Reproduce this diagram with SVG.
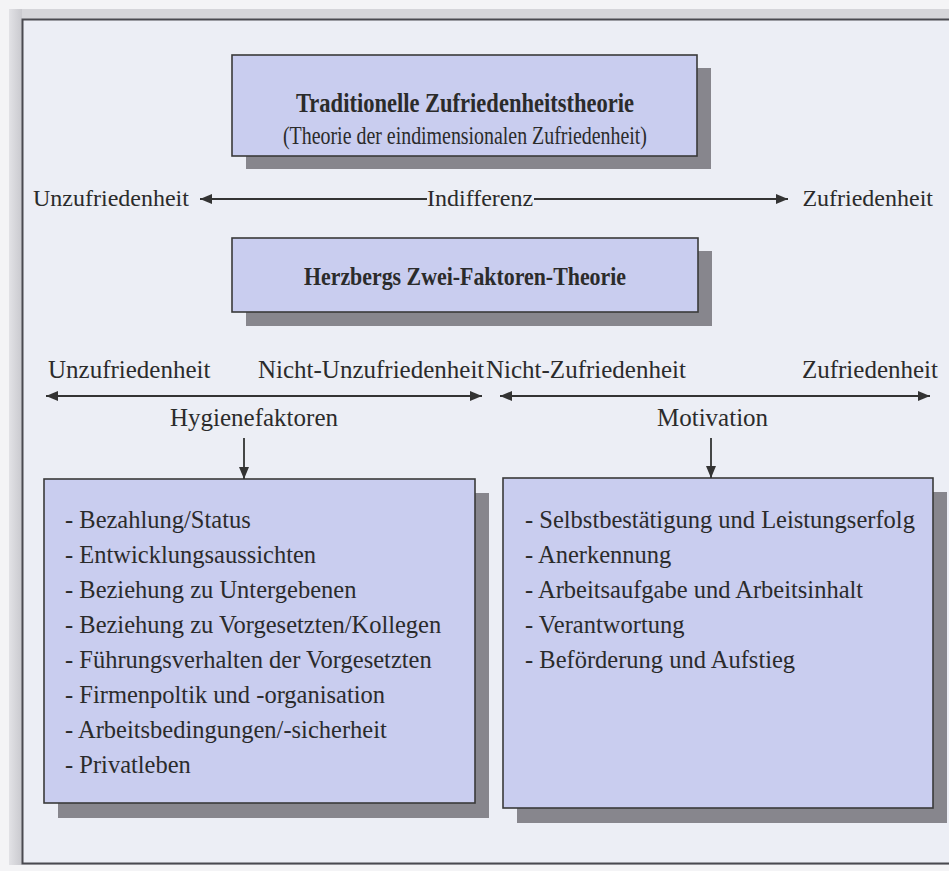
<svg xmlns="http://www.w3.org/2000/svg" width="949" height="871" viewBox="0 0 949 871">
<defs>
<style>
text{font-family:"Liberation Serif","Times New Roman",serif;fill:#2b2b2b}
.t{font-size:24px}
.r{font-size:25px}
.item{font-size:24.5px}
.bold{font-weight:bold}
.box{fill:#c9cdef;stroke:#3a3a3a;stroke-width:1.6}
.shadow{fill:#87868d}
.con{stroke:#333;stroke-width:1.8;fill:none}
</style>
<marker id="ah" viewBox="0 0 12 10" refX="12" refY="5" markerWidth="12" markerHeight="10" markerUnits="userSpaceOnUse" orient="auto-start-reverse">
<path d="M0,0 L12,5 L0,10 z" fill="#333"/>
</marker>
<linearGradient id="band" x1="0" x2="1" y1="0" y2="0">
<stop offset="0" stop-color="#e2e2e6"/>
<stop offset="1" stop-color="#c9c9ce"/>
</linearGradient>
</defs>

<!-- page -->
<rect x="0" y="0" width="949" height="871" fill="#f4f4f6"/>
<rect x="9" y="9" width="940" height="856" fill="#d6d6da"/>
<rect x="9" y="9" width="13" height="856" fill="url(#band)"/>
<rect x="23" y="20" width="926" height="843" fill="#eceef5"/>
<path d="M949,19.5 H22.5 V863.5 H949" fill="none" stroke="#4a4a50" stroke-width="2"/>

<g id="traditionelle">
<rect class="shadow" x="246" y="68" width="465" height="101"/>
<rect class="box" x="232" y="55" width="465" height="101"/>
<text class="bold" x="465" y="112" font-size="27" text-anchor="middle" textLength="338" lengthAdjust="spacingAndGlyphs">Traditionelle Zufriedenheitstheorie</text>
<text x="465" y="144" font-size="25" text-anchor="middle" textLength="364" lengthAdjust="spacingAndGlyphs">(Theorie der eindimensionalen Zufriedenheit)</text>
</g>

<g id="skala1">
<text class="t" x="33" y="206">Unzufriedenheit</text>
<text class="t" x="427" y="206">Indifferenz</text>
<text class="t" x="933" y="206" text-anchor="end">Zufriedenheit</text>
</g>

<g id="herzberg">
<rect class="shadow" x="246" y="251" width="466" height="75"/>
<rect class="box" x="232" y="238" width="466" height="74"/>
<text class="bold" x="465" y="285" font-size="26" text-anchor="middle" textLength="322" lengthAdjust="spacingAndGlyphs">Herzbergs Zwei-Faktoren-Theorie</text>
</g>

<g id="skala2">
<text class="r" x="48" y="378">Unzufriedenheit</text>
<text class="r" x="258" y="378">Nicht-Unzufriedenheit</text>
<text class="r" x="486" y="378">Nicht-Zufriedenheit</text>
<text class="r" x="938" y="378" text-anchor="end">Zufriedenheit</text>
</g>

<g id="hygienefaktoren-label">
<text class="r" x="170" y="426">Hygienefaktoren</text>
</g>
<g id="motivation-label">
<text class="r" x="657" y="426">Motivation</text>
</g>

<g id="hygienefaktoren">
<rect class="shadow" x="58" y="493" width="431" height="325"/>
<rect class="box" x="44" y="479" width="431" height="324"/>
<text class="item" x="65" y="528">- Bezahlung/Status</text>
<text class="item" x="65" y="563">- Entwicklungsaussichten</text>
<text class="item" x="65" y="598">- Beziehung zu Untergebenen</text>
<text class="item" x="65" y="633">- Beziehung zu Vorgesetzten/Kollegen</text>
<text class="item" x="65" y="668">- Führungsverhalten der Vorgesetzten</text>
<text class="item" x="65" y="703">- Firmenpoltik und -organisation</text>
<text class="item" x="65" y="738">- Arbeitsbedingungen/-sicherheit</text>
<text class="item" x="65" y="773">- Privatleben</text>
</g>

<g id="motivatoren">
<rect class="shadow" x="517" y="492" width="430" height="331"/>
<rect class="box" x="503" y="478" width="430" height="330"/>
<text class="item" x="525" y="528">- Selbstbestätigung und Leistungserfolg</text>
<text class="item" x="525" y="563">- Anerkennung</text>
<text class="item" x="525" y="598">- Arbeitsaufgabe und Arbeitsinhalt</text>
<text class="item" x="525" y="633">- Verantwortung</text>
<text class="item" x="525" y="668">- Beförderung und Aufstieg</text>
</g>

<g id="connectors">
<line class="con" x1="427" y1="199" x2="200" y2="199" marker-end="url(#ah)"/>
<line class="con" x1="534" y1="199" x2="788" y2="199" marker-end="url(#ah)"/>
<line class="con" x1="46" y1="396" x2="482" y2="396" marker-start="url(#ah)" marker-end="url(#ah)"/>
<line class="con" x1="500" y1="396" x2="930" y2="396" marker-start="url(#ah)" marker-end="url(#ah)"/>
<line class="con" x1="244" y1="438" x2="244" y2="479" marker-end="url(#ah)"/>
<line class="con" x1="711" y1="438" x2="711" y2="478" marker-end="url(#ah)"/>
</g>
</svg>
